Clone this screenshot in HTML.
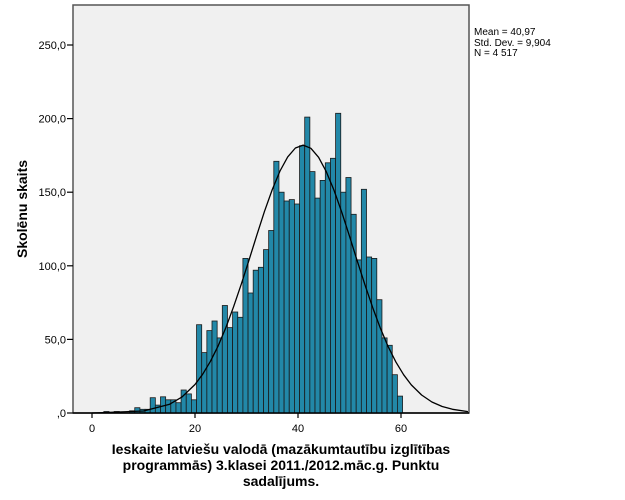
<!DOCTYPE html>
<html><head><meta charset="utf-8"><style>
html,body{margin:0;padding:0;background:#fff;}
svg{display:block;font-family:"Liberation Sans",Arial,sans-serif;}
</style></head><body>
<svg width="625" height="500" viewBox="0 0 625 500" xmlns="http://www.w3.org/2000/svg">
<rect x="73" y="5" width="396" height="408" fill="#f0f0f0" stroke="#555" stroke-width="1.5"/>
<g fill="#2288a8" stroke="#1a1a1a" stroke-width="0.8">
<rect x="103.85" y="411.5" width="5.15" height="1.5"/>
<rect x="114.15" y="411.5" width="5.15" height="1.5"/>
<rect x="129.6" y="410.8" width="5.15" height="2.2"/>
<rect x="134.75" y="407.7" width="5.15" height="5.3"/>
<rect x="139.9" y="409.3" width="5.15" height="3.7"/>
<rect x="145.05" y="409.3" width="5.15" height="3.7"/>
<rect x="150.2" y="397.7" width="5.15" height="15.3"/>
<rect x="155.35" y="405.1" width="5.15" height="7.9"/>
<rect x="160.5" y="396.8" width="5.15" height="16.2"/>
<rect x="165.65" y="399.8" width="5.15" height="13.2"/>
<rect x="170.8" y="399.8" width="5.15" height="13.2"/>
<rect x="175.95" y="402.7" width="5.15" height="10.3"/>
<rect x="181.1" y="390" width="5.15" height="23"/>
<rect x="186.25" y="393.9" width="5.15" height="19.1"/>
<rect x="191.4" y="399.8" width="5.15" height="13.2"/>
<rect x="196.55" y="324.7" width="5.15" height="88.3"/>
<rect x="201.7" y="352.6" width="5.15" height="60.4"/>
<rect x="206.85" y="330.6" width="5.15" height="82.4"/>
<rect x="212" y="321" width="5.15" height="92"/>
<rect x="217.15" y="337.9" width="5.15" height="75.1"/>
<rect x="222.3" y="305.5" width="5.15" height="107.5"/>
<rect x="227.45" y="327.6" width="5.15" height="85.4"/>
<rect x="232.6" y="312" width="5.15" height="101"/>
<rect x="237.75" y="317.3" width="5.15" height="95.7"/>
<rect x="242.9" y="258.4" width="5.15" height="154.6"/>
<rect x="248.05" y="293" width="5.15" height="120"/>
<rect x="253.2" y="270.2" width="5.15" height="142.8"/>
<rect x="258.35" y="267.3" width="5.15" height="145.7"/>
<rect x="263.5" y="249.6" width="5.15" height="163.4"/>
<rect x="268.65" y="230.5" width="5.15" height="182.5"/>
<rect x="273.8" y="161.3" width="5.15" height="251.7"/>
<rect x="278.95" y="192.2" width="5.15" height="220.8"/>
<rect x="284.1" y="201" width="5.15" height="212"/>
<rect x="289.25" y="199.6" width="5.15" height="213.4"/>
<rect x="294.4" y="204" width="5.15" height="209"/>
<rect x="299.55" y="145.7" width="5.15" height="267.3"/>
<rect x="304.7" y="117.1" width="5.15" height="295.9"/>
<rect x="309.85" y="171.6" width="5.15" height="241.4"/>
<rect x="315" y="198.1" width="5.15" height="214.9"/>
<rect x="320.15" y="180.4" width="5.15" height="232.6"/>
<rect x="325.3" y="162.8" width="5.15" height="250.2"/>
<rect x="330.45" y="158.3" width="5.15" height="254.7"/>
<rect x="335.6" y="113.3" width="5.15" height="299.7"/>
<rect x="340.75" y="192.2" width="5.15" height="220.8"/>
<rect x="345.9" y="177.5" width="5.15" height="235.5"/>
<rect x="351.05" y="214.3" width="5.15" height="198.7"/>
<rect x="356.2" y="259.9" width="5.15" height="153.1"/>
<rect x="361.35" y="189.3" width="5.15" height="223.7"/>
<rect x="366.5" y="257" width="5.15" height="156"/>
<rect x="371.65" y="258.4" width="5.15" height="154.6"/>
<rect x="376.8" y="299.7" width="5.15" height="113.3"/>
<rect x="381.95" y="337.9" width="5.15" height="75.1"/>
<rect x="387.1" y="345.3" width="5.15" height="67.7"/>
<rect x="392.25" y="374.7" width="5.15" height="38.3"/>
<rect x="397.4" y="396.1" width="5.15" height="16.9"/>
</g>
<polyline fill="none" stroke="#000" stroke-width="1.3" stroke-linejoin="round" points="92,413 143.5,411 169.25,404.4 182.1,396.9 195,384.5 202.7,374.2 210.45,361.3 218.2,345.8 225.9,327.5 233.6,306.7 241.35,283.9 249.1,259.8 256.8,235.2 264.5,211.3 272.25,189.6 280,171 287.7,156.9 295.4,148 303.15,145.1 310.9,148.3 318.6,157.3 326.3,171.7 334.05,190.4 341.8,212.3 349.5,236.2 357.2,260.8 364.95,284.8 372.7,307.6 380.4,328.3 388.1,346.5 395.85,361.9 403.6,374.7 411.3,384.9 421.6,395 431.9,402 442.2,406.5 452.5,409.3 467.95,411.6"/>
<line x1="73" y1="413" x2="469" y2="413" stroke="#000" stroke-width="1.5"/>
<g stroke="#000" stroke-width="1.2">
<line x1="67" y1="45" x2="73" y2="45"/><line x1="67" y1="118.6" x2="73" y2="118.6"/>
<line x1="67" y1="192.2" x2="73" y2="192.2"/><line x1="67" y1="265.8" x2="73" y2="265.8"/>
<line x1="67" y1="339.4" x2="73" y2="339.4"/><line x1="67" y1="413" x2="73" y2="413"/>
<line x1="92" y1="413" x2="92" y2="418"/><line x1="195" y1="413" x2="195" y2="418"/>
<line x1="298" y1="413" x2="298" y2="418"/><line x1="401" y1="413" x2="401" y2="418"/>
</g>
<g font-size="11" text-anchor="end" fill="#000">
<text x="66" y="49">250,0</text><text x="66" y="122.6">200,0</text>
<text x="66" y="196.2">150,0</text><text x="66" y="269.8">100,0</text>
<text x="66" y="343.4">50,0</text><text x="66" y="417">,0</text>
</g>
<g font-size="11" text-anchor="middle" fill="#000">
<text x="92" y="432">0</text><text x="195" y="432">20</text>
<text x="298" y="432">40</text><text x="401" y="432">60</text>
</g>
<text x="27" y="209" font-size="14" font-weight="bold" text-anchor="middle" transform="rotate(-90 27 209)">Skolēnu skaits</text>
<g font-size="14" font-weight="bold" text-anchor="middle">
<text x="281" y="454">Ieskaite latviešu valodā (mazākumtautību izglītības</text>
<text x="281" y="470">programmās) 3.klasei 2011./2012.māc.g. Punktu</text>
<text x="281" y="486">sadalījums.</text>
</g>
<g font-size="10">
<text x="474" y="35">Mean = 40,97</text>
<text x="474" y="46">Std. Dev. = 9,904</text>
<text x="474" y="56">N = 4 517</text>
</g>
</svg>
</body></html>
